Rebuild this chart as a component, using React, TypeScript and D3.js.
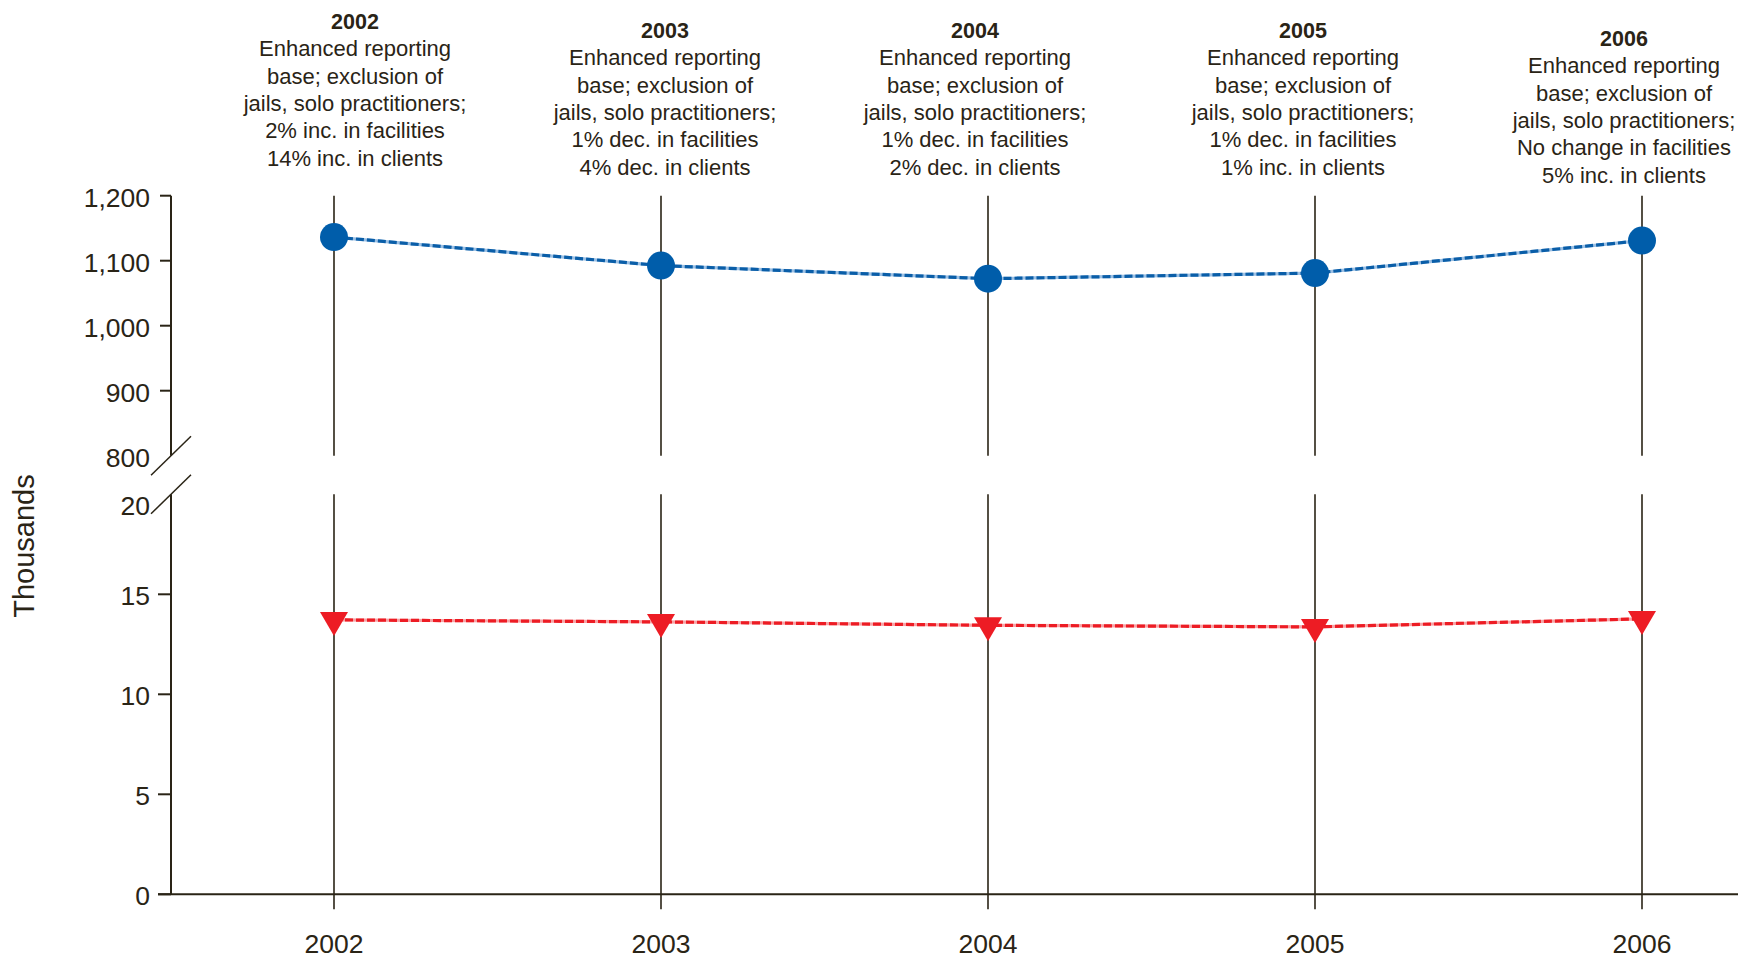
import { useEffect } from "react";
import * as d3 from "d3";

// data (thousands)
const years = [2002, 2003, 2004, 2005, 2006];
const clients = [1136.3, 1092.5, 1072.3, 1081.0, 1130.9];
const facilities = [13.72, 13.62, 13.45, 13.37, 13.77];
const upperTicks = [800, 900, 1000, 1100, 1200];
const lowerTicks = [0, 5, 10, 15, 20];
const notes = [
  ["Enhanced reporting", "base; exclusion of", "jails, solo practitioners;", "2% inc. in facilities", "14% inc. in clients"],
  ["Enhanced reporting", "base; exclusion of", "jails, solo practitioners;", "1% dec. in facilities", "4% dec. in clients"],
  ["Enhanced reporting", "base; exclusion of", "jails, solo practitioners;", "1% dec. in facilities", "2% dec. in clients"],
  ["Enhanced reporting", "base; exclusion of", "jails, solo practitioners;", "1% dec. in facilities", "1% inc. in clients"],
  ["Enhanced reporting", "base; exclusion of", "jails, solo practitioners;", "No change in facilities", "5% inc. in clients"],
];

// layout tweaks for the annotation blocks
const noteDx = [21, 4, -13, -12, -18];
const noteTop = [21, 30, 30, 30, 38];

const W = 1738;
const H = 959;
const INK = "#2a2416";
const FONT = "'Liberation Sans', Arial, Helvetica, sans-serif";

export default function App() {
  useEffect(() => {
    document.body.style.margin = "0";
    document.body.style.overflow = "hidden";
  }, []);

  const axisX = 171;
  const x = d3.scaleLinear().domain([2002, 2006]).range([334, 1642]);
  const yTop = d3.scaleLinear().domain([800, 1200]).range([455.7, 195.7]);
  const yBot = d3.scaleLinear().domain([0, 20]).range([894.3, 494.3]);
  const fmt = d3.format(",");

  const topLine = d3.line<number>().x((_, i) => x(years[i])).y((d) => yTop(d));
  const botLine = d3.line<number>().x((_, i) => x(years[i])).y((d) => yBot(d));

  const slash = (yc: number) => `M${axisX - 20},${yc + 19.5}L${axisX + 20},${yc - 19.5}`;

  return (
    <svg
      width={W}
      height={H}
      style={{ position: "absolute", left: 0, top: 0, background: "#fff" }}
      fontFamily={FONT}
    >
      {/* year verticals */}
      {years.map((yr) => (
        <g key={yr} stroke={INK} strokeWidth={1.6}>
          <line x1={x(yr)} x2={x(yr)} y1={yTop(1200)} y2={yTop(800)} />
          <line x1={x(yr)} x2={x(yr)} y1={yBot(20)} y2={yBot(0) + 15} />
        </g>
      ))}

      {/* y axis, upper part */}
      <line x1={axisX} x2={axisX} y1={yTop(1200)} y2={yTop(800)} stroke={INK} strokeWidth={2} />
      {upperTicks.map((t) => (
        <g key={t}>
          {t !== 800 && (
            <line x1={axisX - 11} x2={axisX} y1={yTop(t)} y2={yTop(t)} stroke={INK} strokeWidth={2} />
          )}
          <text x={axisX - 21} y={yTop(t) + 2} dy="0.35em" textAnchor="end" fontSize={26.5} fill={INK}>
            {fmt(t)}
          </text>
        </g>
      ))}

      {/* y axis, lower part */}
      <line x1={axisX} x2={axisX} y1={yBot(20)} y2={yBot(0)} stroke={INK} strokeWidth={2} />
      {lowerTicks.map((t) => (
        <g key={t}>
          {t !== 20 && (
            <line x1={axisX - 13} x2={axisX} y1={yBot(t)} y2={yBot(t)} stroke={INK} strokeWidth={2} />
          )}
          <text
            x={axisX - 21}
            y={yBot(t) + (t === 20 ? 11 : 1)}
            dy="0.35em"
            textAnchor="end"
            fontSize={26.5}
            fill={INK}
          >
            {t}
          </text>
        </g>
      ))}

      {/* break marks */}
      <path d={slash(yTop(800))} stroke={INK} strokeWidth={1.5} fill="none" />
      <path d={slash(yBot(20))} stroke={INK} strokeWidth={1.5} fill="none" />

      {/* x axis */}
      <line x1={axisX - 13} x2={W} y1={yBot(0)} y2={yBot(0)} stroke={INK} strokeWidth={2} />
      {years.map((yr) => (
        <text key={yr} x={x(yr)} y={944} dy="0.35em" textAnchor="middle" fontSize={26.5} fill={INK}>
          {yr}
        </text>
      ))}

      <text
        transform={`translate(24,546) rotate(-90)`}
        textAnchor="middle"
        dy="0.35em"
        fontSize={29}
        fill={INK}
      >
        Thousands
      </text>

      {/* clients series */}
      <path d={topLine(clients) || ""} fill="none" stroke="#9cc0e4" strokeWidth={3.2} />
      <path d={topLine(clients) || ""} fill="none" stroke="#0a5ea8" strokeWidth={3.2} strokeDasharray="8,3" />
      {clients.map((v, i) => (
        <circle key={i} cx={x(years[i])} cy={yTop(v)} r={14} fill="#005daa" />
      ))}

      {/* facilities series */}
      <path d={botLine(facilities) || ""} fill="none" stroke="#f6a3a6" strokeWidth={3.2} />
      <path d={botLine(facilities) || ""} fill="none" stroke="#ed1c24" strokeWidth={3.2} strokeDasharray="8,3" />
      {facilities.map((v, i) => {
        const cx = x(years[i]);
        const cy = yBot(v);
        return (
          <path
            key={i}
            d={`M${cx - 14},${cy - 8}L${cx + 14},${cy - 8}L${cx},${cy + 16}Z`}
            fill="#ed1c24"
          />
        );
      })}

      {/* annotations */}
      {years.map((yr, i) => {
        const cx = x(yr) + noteDx[i];
        const top = noteTop[i];
        return (
          <text key={yr} textAnchor="middle" fontSize={22} fill={INK}>
            <tspan x={cx} y={top} dy="0.35em" fontWeight="bold" fontSize={21.5}>
              {yr}
            </tspan>
            {notes[i].map((ln, j) => (
              <tspan key={j} x={cx} y={top + 27.4 * (j + 1)} dy="0.35em">
                {ln}
              </tspan>
            ))}
          </text>
        );
      })}
    </svg>
  );
}
